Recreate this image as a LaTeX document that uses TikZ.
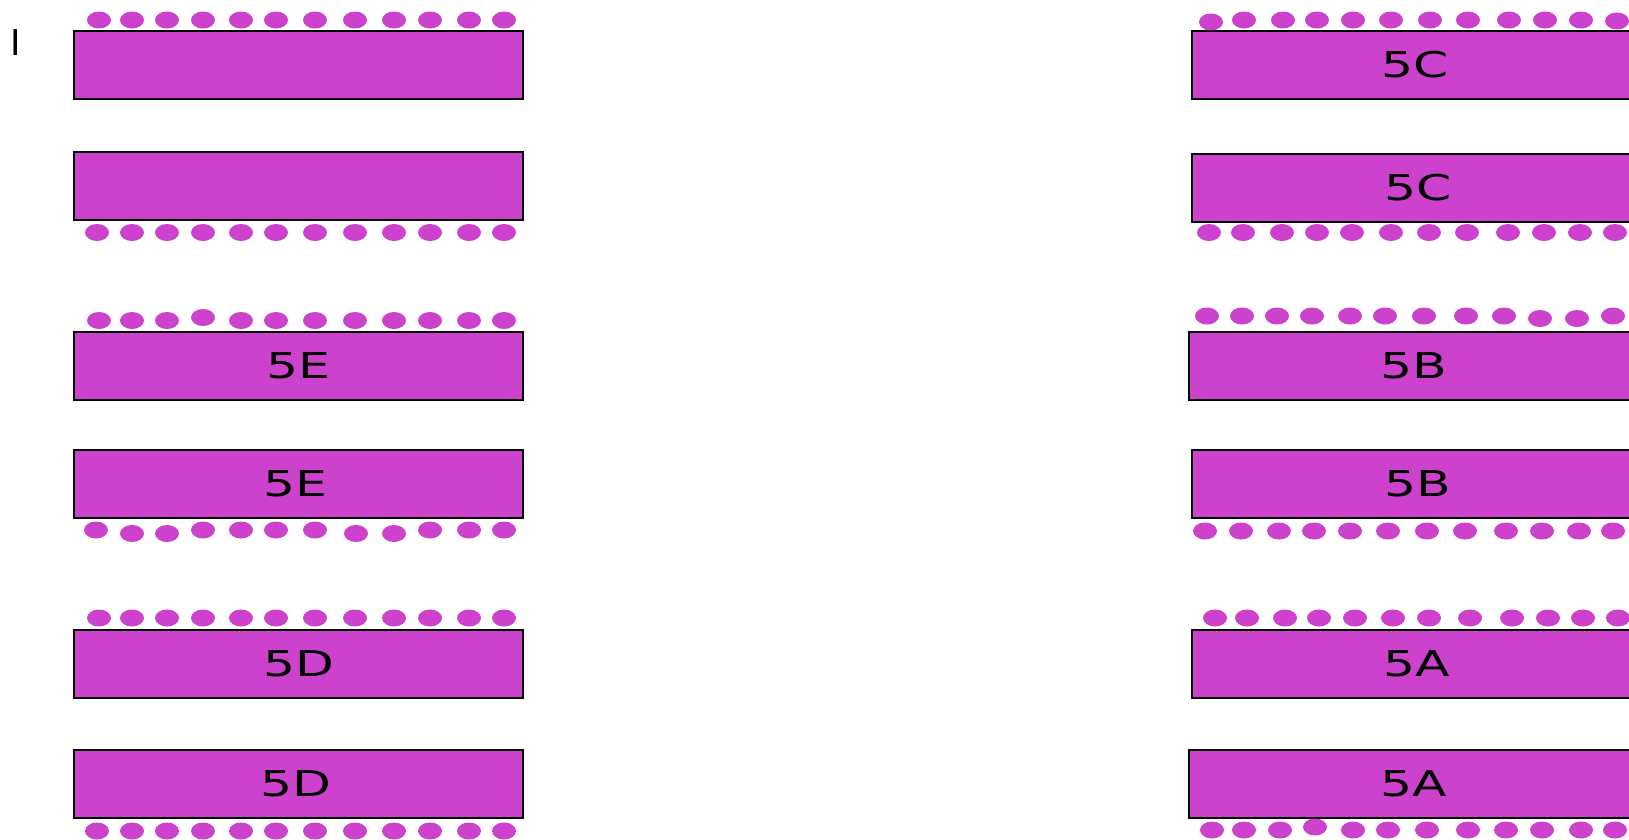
\documentclass[tikz,border=0pt]{standalone}
\usepackage{fontspec}
\usepackage{graphicx}
\setmainfont{DejaVu Sans}
\definecolor{mag}{RGB}{204,66,204}
\tikzset{
  box/.style={draw=black, line width=2pt, fill=mag, minimum width=449pt, minimum height=68pt, inner sep=0pt, outer sep=0pt},
  lbl/.style={inner sep=0pt, text=black, font=\fontsize{35.5}{36}\selectfont},
  dotc/.style={fill=mag}
}
\newcommand{\stretchlbl}[1]{\scalebox{1.42}[1]{#1}}
\newcommand{\dotrow}[2]{\foreach \xx/\dd in {#2}{\fill[dotc] (\xx,#1+\dd) ellipse [x radius=12pt, y radius=8.5pt];}}
\begin{document}
\begin{tikzpicture}[x=1pt,y=-1pt]
\useasboundingbox (0,0) rectangle (1629,839);
\clip (0,0) rectangle (1629,839);
\fill[white] (0,0) rectangle (1629,839);

% cursor-like letter
\node[lbl, anchor=center] (cur) at (15.3,42.5) {I};

% left column rectangles
\node[box, anchor=north west] (L1) at (73.5,31) {};
\node[box, anchor=north west] (L2) at (73.5,152) {};
\node[box, anchor=north west] (L3) at (73.5,331.5) {};
\node[box, anchor=north west] (L4) at (73.5,450) {};
\node[box, anchor=north west] (L5) at (73.5,630) {};
\node[box, anchor=north west] (L6) at (73.5,749.5) {};

% right column rectangles
\node[box, anchor=north west] (R1) at (1192,31) {};
\node[box, anchor=north west] (R2) at (1192,153.5) {};
\node[box, anchor=north west] (R3) at (1189,331.5) {};
\node[box, anchor=north west] (R4) at (1192,450) {};
\node[box, anchor=north west] (R5) at (1192,630) {};
\node[box, anchor=north west] (R6) at (1189,749.5) {};

% labels
\node[lbl] (tL3) at ([xshift=0.5pt]L3.center) {\stretchlbl{5E}};
\node[lbl] (tL4) at ([xshift=-2.5pt]L4.center) {\stretchlbl{5E}};
\node[lbl] (tL5) at ([xshift=0.5pt]L5.center) {\stretchlbl{5D}};
\node[lbl] (tL6) at ([xshift=-2pt]L6.center) {\stretchlbl{5D}};
\node[lbl] (tR1) at ([xshift=-1.5pt]R1.center) {\stretchlbl{5C}};
\node[lbl] (tR2) at ([xshift=2pt]R2.center) {\stretchlbl{5C}};
\node[lbl] (tR3) at ([xshift=0.5pt]R3.center) {\stretchlbl{5B}};
\node[lbl] (tR4) at ([xshift=1pt]R4.center) {\stretchlbl{5B}};
\node[lbl] (tR5) at ([xshift=0.5pt]R5.center) {\stretchlbl{5A}};
\node[lbl] (tR6) at ([xshift=0.5pt]R6.center) {\stretchlbl{5A}};

% left column dot rows
\dotrow{20}{99/0,132/0,167/0,203/0,241/0,276/0,315/0,355/0,394/0,430/0,469/0,504/0}
\dotrow{232.5}{97/0,132/0,167/0,203/0,241/0,276/0,315/0,355/0,394/0,430/0,469/0,504/0}
\dotrow{320.5}{99/0,132/0,167/0,203/-3,241/0,276/0,315/0,355/0,394/0,430/0,469/0,504/0}
\dotrow{530}{96/0,132/3.5,167/3.5,203/0,241/0,276/0,315/0,356/3.5,394/3.5,430/0,469/0,504/0}
\dotrow{618}{99/0,132/0,167/0,203/0,241/0,276/0,315/0,355/0,394/0,430/0,469/0,504/0}
\dotrow{831}{97/0,132/0,167/0,203/0,241/0,276/0,315/0,355/0,394/0,430/0,469/0,504/0}

% right column dot rows
\dotrow{20}{1211/2,1244/0,1283/0,1317/0,1353/0,1391/0,1430/0,1468/0,1509/0,1545/0,1581/0,1617/1}
\dotrow{232.5}{1209/0,1243/0,1282/0,1317/0,1352/0,1391/0,1429/0,1467/0,1508/0,1544/0,1580/0,1615/0}
\dotrow{316}{1207/0,1242/0,1277/0,1312/0,1350/0,1385/0,1424/0,1466/0,1504/0,1540/2.5,1577/2.5,1613/0}
\dotrow{531}{1205/0,1241/0,1279/0,1314/0,1350/0,1388/0,1427/0,1465/0,1506/0,1542/0,1579/0,1613/0}
\dotrow{618}{1215/0,1247/0,1285/0,1319/0,1355/0,1393/0,1429/0,1470/0,1512/0,1548/0,1583/0,1618/0}
\dotrow{830}{1212/0,1244/0,1280/0,1315/-3,1353/0,1388/0,1427/0,1468/0,1506/0,1542/0,1581/0,1615/0}
\end{tikzpicture}
\end{document}
